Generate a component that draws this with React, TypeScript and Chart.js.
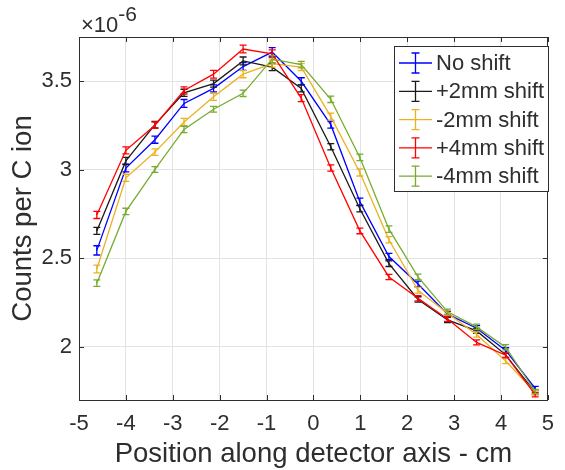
import React, { useEffect, useRef } from "react";
import { Chart, registerables } from "chart.js";

Chart.register(...registerables);

// ---- data ----
const xPositions = [-4.62, -4.0, -3.38, -2.76, -2.13, -1.5, -0.88, -0.26, 0.37, 0.99, 1.61, 2.23, 2.86, 3.48, 4.1, 4.73];

const seriesLabels = ["No shift", "+2mm shift", "-2mm shift", "+4mm shift", "-4mm shift"];
const seriesColors = ["#0000ff", "#1a1a1a", "#edb120", "#ff0000", "#77ac30"];

const noShift = [2.545, 3.01, 3.17, 3.375, 3.46, 3.583, 3.665, 3.5, 3.255, 2.82, 2.51, 2.355, 2.185, 2.105, 1.98, 1.765];
const plus2mm = [2.655, 3.05, 3.255, 3.435, 3.487, 3.615, 3.58, 3.46, 3.13, 2.78, 2.47, 2.268, 2.152, 2.09, 1.955, 1.742];
const minus2mm = [2.44, 2.955, 3.1, 3.27, 3.412, 3.54, 3.6, 3.58, 3.3, 2.985, 2.605, 2.32, 2.19, 2.07, 1.92, 1.742];
const plus4mm = [2.745, 3.11, 3.252, 3.448, 3.54, 3.682, 3.655, 3.405, 3.01, 2.655, 2.395, 2.275, 2.158, 2.025, 1.953, 1.73];
const minus4mm = [2.36, 2.765, 3.002, 3.228, 3.342, 3.432, 3.625, 3.594, 3.398, 3.07, 2.665, 2.395, 2.198, 2.113, 1.998, 1.748];

const noShiftErr = [0.026, 0.022, 0.02, 0.022, 0.02, 0.022, 0.025, 0.02, 0.02, 0.02, 0.018, 0.016, 0.015, 0.015, 0.015, 0.012];
const plus2mmErr = [0.02, 0.02, 0.018, 0.02, 0.02, 0.022, 0.02, 0.02, 0.018, 0.018, 0.016, 0.015, 0.015, 0.014, 0.014, 0.012];
const minus2mmErr = [0.022, 0.02, 0.018, 0.02, 0.02, 0.02, 0.02, 0.02, 0.02, 0.02, 0.018, 0.016, 0.015, 0.015, 0.015, 0.012];
const plus4mmErr = [0.02, 0.02, 0.018, 0.02, 0.022, 0.022, 0.022, 0.02, 0.018, 0.016, 0.015, 0.015, 0.014, 0.014, 0.014, 0.012];
const minus4mmErr = [0.018, 0.018, 0.016, 0.018, 0.016, 0.018, 0.02, 0.018, 0.018, 0.018, 0.018, 0.016, 0.015, 0.015, 0.015, 0.012];

const seriesValues = [noShift, plus2mm, minus2mm, plus4mm, minus4mm];
const seriesErrors = [noShiftErr, plus2mmErr, minus2mmErr, plus4mmErr, minus4mmErr];

const xTicks = [-5, -4, -3, -2, -1, 0, 1, 2, 3, 4, 5];
const yTicks = [2, 2.5, 3, 3.5];
const xMin = -5;
const xMax = 5;
const yMin = 1.7;
const yMax = 3.75;

const xTitle = "Position along detector axis - cm";
const yTitle = "Counts per C ion";
const exponentBase = "\u00d710";
const exponentPower = "-6";

const FONT = "'Liberation Sans', Arial, Helvetica, sans-serif";
const AXIS_COLOR = "#2e2e2e";

const errorBarPlugin = {
  id: "errorBars",
  afterDatasetDraw(chart: any, args: any) {
    const ds: any = chart.data.datasets[args.index];
    const errs: number[] = ds.errors;
    if (!errs) return;
    const xs = chart.scales.x;
    const ys = chart.scales.y;
    const ctx = chart.ctx;
    ctx.save();
    ctx.strokeStyle = ds.borderColor;
    ctx.lineWidth = 1.3;
    const cap = 3.5;
    ds.data.forEach((p: any, i: number) => {
      const px = xs.getPixelForValue(p.x);
      const y1 = ys.getPixelForValue(p.y - errs[i]);
      const y2 = ys.getPixelForValue(p.y + errs[i]);
      ctx.beginPath();
      ctx.moveTo(px, y1);
      ctx.lineTo(px, y2);
      ctx.moveTo(px - cap, y1);
      ctx.lineTo(px + cap, y1);
      ctx.moveTo(px - cap, y2);
      ctx.lineTo(px + cap, y2);
      ctx.stroke();
    });
    ctx.restore();
  },
};

const decorPlugin = {
  id: "decor",
  afterDraw(chart: any) {
    const ctx = chart.ctx;
    const a = chart.chartArea;
    const xs = chart.scales.x;
    const ys = chart.scales.y;
    ctx.save();
    // frame
    ctx.strokeStyle = AXIS_COLOR;
    ctx.lineWidth = 1;
    ctx.strokeRect(Math.round(a.left) + 0.5, Math.round(a.top) + 0.5, Math.round(a.right - a.left) - 1, Math.round(a.bottom - a.top));
    // inward tick marks
    const tl = 5;
    ctx.beginPath();
    xTicks.forEach((v) => {
      const px = Math.round(xs.getPixelForValue(v)) + 0.5;
      ctx.moveTo(px, a.bottom);
      ctx.lineTo(px, a.bottom - tl);
      ctx.moveTo(px, a.top);
      ctx.lineTo(px, a.top + tl);
    });
    yTicks.forEach((v) => {
      const py = Math.round(ys.getPixelForValue(v)) + 0.5;
      ctx.moveTo(a.left, py);
      ctx.lineTo(a.left + tl, py);
      ctx.moveTo(a.right, py);
      ctx.lineTo(a.right - tl, py);
    });
    ctx.stroke();

    // titles
    ctx.fillStyle = AXIS_COLOR;
    ctx.font = `27.5px ${FONT}`;
    ctx.textAlign = "center";
    ctx.textBaseline = "alphabetic";
    ctx.fillText(xTitle, (a.left + a.right) / 2, 462);
    ctx.save();
    ctx.translate(31, (a.top + a.bottom) / 2);
    ctx.rotate(-Math.PI / 2);
    ctx.fillText(yTitle, 0, 0);
    ctx.restore();

    // exponent
    ctx.textAlign = "left";
    ctx.font = `22px ${FONT}`;
    ctx.fillText(exponentBase, a.left + 2, 32);
    const w = ctx.measureText(exponentBase).width;
    ctx.font = `21px ${FONT}`;
    ctx.fillText(exponentPower, a.left + 2 + w, 21);

    // legend
    const lx = 394, ly = 46, lw = 154, lh = 145;
    ctx.fillStyle = "#ffffff";
    ctx.fillRect(lx, ly, lw, lh);
    ctx.strokeStyle = AXIS_COLOR;
    ctx.lineWidth = 1;
    ctx.strokeRect(lx + 0.5, ly + 0.5, lw, lh);
    ctx.font = `22px ${FONT}`;
    ctx.textBaseline = "middle";
    seriesLabels.forEach((label, i) => {
      const ry = 63 + i * 28.3;
      const c = seriesColors[i];
      ctx.strokeStyle = c;
      ctx.lineWidth = 1.3;
      ctx.beginPath();
      ctx.moveTo(399, ry);
      ctx.lineTo(432, ry);
      const cx = 415.5;
      ctx.moveTo(cx, ry - 10);
      ctx.lineTo(cx, ry + 10);
      ctx.moveTo(cx - 4, ry - 10);
      ctx.lineTo(cx + 4, ry - 10);
      ctx.moveTo(cx - 4, ry + 10);
      ctx.lineTo(cx + 4, ry + 10);
      ctx.stroke();
      ctx.fillStyle = AXIS_COLOR;
      ctx.fillText(label, 436, ry + 1);
    });
    ctx.restore();
  },
};

export default function App() {
  const ref = useRef<HTMLCanvasElement | null>(null);

  useEffect(() => {
    document.body.style.margin = "0";
    const canvas = ref.current;
    if (!canvas) return;
    const n = seriesLabels.length;
    const chart = new Chart(canvas, {
      type: "line",
      data: {
        datasets: seriesLabels.map((label, i) => ({
          label,
          data: xPositions.map((x, j) => ({ x, y: seriesValues[i][j] })),
          errors: seriesErrors[i],
          borderColor: seriesColors[i],
          backgroundColor: seriesColors[i],
          borderWidth: 1.3,
          pointRadius: 0,
          tension: 0,
          fill: false,
          order: n - 1 - i,
        })) as any,
      },
      options: {
        animation: false,
        responsive: false,
        devicePixelRatio: 1,
        layout: { padding: { top: 37, right: 6, left: 0, bottom: 0 } },
        plugins: {
          legend: { display: false },
          tooltip: { enabled: false },
        },
        scales: {
          x: {
            type: "linear",
            min: xMin,
            max: xMax,
            afterBuildTicks: (s: any) => {
              s.ticks = xTicks.map((v) => ({ value: v }));
            },
            afterFit: (s: any) => {
              s.height = 70;
            },
            ticks: {
              autoSkip: false,
              maxRotation: 0,
              padding: 11,
              color: AXIS_COLOR,
              font: { family: FONT, size: 22 },
              callback: (v: any) => String(v),
            },
            grid: { color: "#e3e3e3", lineWidth: 1, drawTicks: false },
            border: { display: false },
          },
          y: {
            type: "linear",
            min: yMin,
            max: yMax,
            afterBuildTicks: (s: any) => {
              s.ticks = yTicks.map((v) => ({ value: v }));
            },
            afterFit: (s: any) => {
              s.width = 79;
            },
            ticks: {
              autoSkip: false,
              padding: 7,
              color: AXIS_COLOR,
              font: { family: FONT, size: 22 },
              callback: (v: any) => String(v),
            },
            grid: { color: "#e3e3e3", lineWidth: 1, drawTicks: false },
            border: { display: false },
          },
        },
      } as any,
      plugins: [errorBarPlugin, decorPlugin],
    });
    return () => chart.destroy();
  }, []);

  return (
    <div style={{ width: 565, height: 470 }}>
      <canvas ref={ref} width={565} height={470} style={{ display: "block" }} />
    </div>
  );
}
